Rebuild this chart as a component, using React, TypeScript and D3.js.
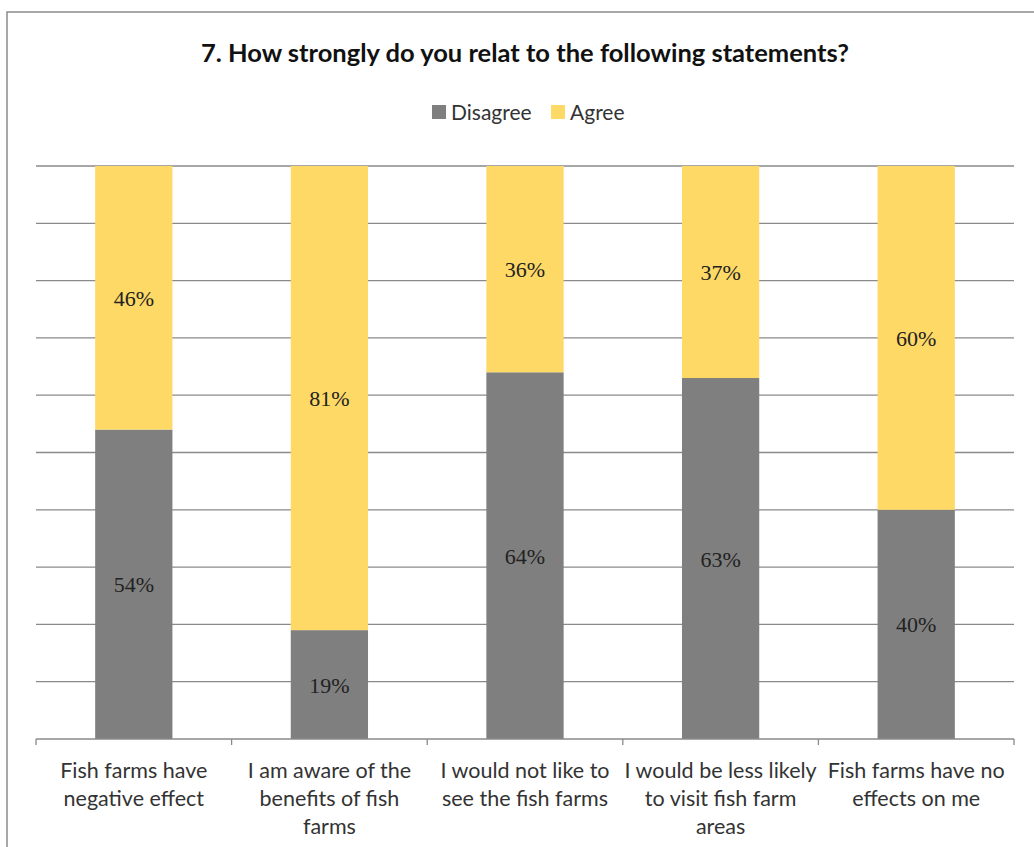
import React from "react";
import * as d3 from "d3";

const categories: string[][] = [
  ["Fish farms have", "negative effect"],
  ["I am aware of the", "benefits of fish", "farms"],
  ["I would not like to", "see the fish farms"],
  ["I would be less likely", "to visit fish farm", "areas"],
  ["Fish farms have no", "effects on me"],
];
const disagree = [54, 19, 64, 63, 40];
const agree = [46, 81, 36, 37, 60];
const seriesNames = ["Disagree", "Agree"];
const colors = ["#7f7f7f", "#fed966"];

const W = 1034, H = 847;
const left = 36, right = 1014, top = 166, bottom = 739;
const SANS = "Lato, 'Open Sans', sans-serif";
const SERIF = "'Liberation Serif', 'Times New Roman', serif";

export default function App() {
  const x = d3.scaleBand<number>().domain(d3.range(categories.length)).range([left, right]).paddingInner(0).paddingOuter(0);
  const y = d3.scaleLinear().domain([0, 100]).range([bottom, top]);
  const barW = x.bandwidth() * 0.395;
  const grid = d3.range(10, 101, 10);
  const stack = d3.stack<number>().keys(["0", "1"]).value((i, k) => (k === "0" ? disagree[i] : agree[i]));
  const layers = stack(d3.range(categories.length));
  return (
    <svg width={W} height={H} style={{ position: "absolute", left: 0, top: 0, background: "#fff" }}>
      <rect x={7} y={12} width={W + 10} height={H + 10} fill="#fff" stroke="#8c8c8c" strokeWidth={1.5} />
      <text x={525} y={62} textAnchor="middle" fontFamily={SANS} fontWeight="bold" fontSize={25.5} fill="#111">
        7. How strongly do you relat to the following statements?
      </text>
      {/* legend */}
      <rect x={432} y={105} width={14} height={14} fill={colors[0]} />
      <text x={451} y={120} fontFamily={SANS} fontSize={21} fill="#333">{seriesNames[0]}</text>
      <rect x={551} y={105} width={14} height={14} fill={colors[1]} />
      <text x={570} y={120} fontFamily={SANS} fontSize={21} fill="#333">{seriesNames[1]}</text>
      {grid.map((g) => (
        <line key={g} x1={left} x2={right} y1={y(g)} y2={y(g)} stroke="#8a8a8a" strokeWidth={1.3} />
      ))}
      {layers.map((layer, li) => (
        <g key={li}>
          {layer.map((d, i) => {
            const cx = (x(i) as number) + x.bandwidth() / 2;
            return (
              <rect key={i} x={cx - barW / 2} width={barW} y={y(d[1])} height={y(d[0]) - y(d[1])} fill={colors[li]} />
            );
          })}
        </g>
      ))}
      {layers.map((layer, li) =>
        layer.map((d, i) => {
          const cx = (x(i) as number) + x.bandwidth() / 2;
          const v = li === 0 ? disagree[i] : agree[i];
          return (
            <text key={`${li}-${i}`} x={cx} y={(y(d[0]) + y(d[1])) / 2 + 8} textAnchor="middle" fontFamily={SERIF} fontSize={22} fill="#222">
              {v}%
            </text>
          );
        })
      )}
      <line x1={left} x2={right} y1={bottom} y2={bottom} stroke="#8a8a8a" strokeWidth={1.3} />
      {d3.range(categories.length + 1).map((i) => {
        const tx = i < categories.length ? (x(i) as number) : right;
        return <line key={i} x1={tx} x2={tx} y1={bottom} y2={bottom + 6} stroke="#8a8a8a" strokeWidth={1.3} />;
      })}
      {categories.map((lines, i) => {
        const cx = (x(i) as number) + x.bandwidth() / 2;
        return (
          <text key={i} textAnchor="middle" fontFamily={SANS} fontSize={21.5} fill="#333">
            {lines.map((l, j) => (
              <tspan key={j} x={cx} y={778 + j * 28}>{l}</tspan>
            ))}
          </text>
        );
      })}
    </svg>
  );
}
